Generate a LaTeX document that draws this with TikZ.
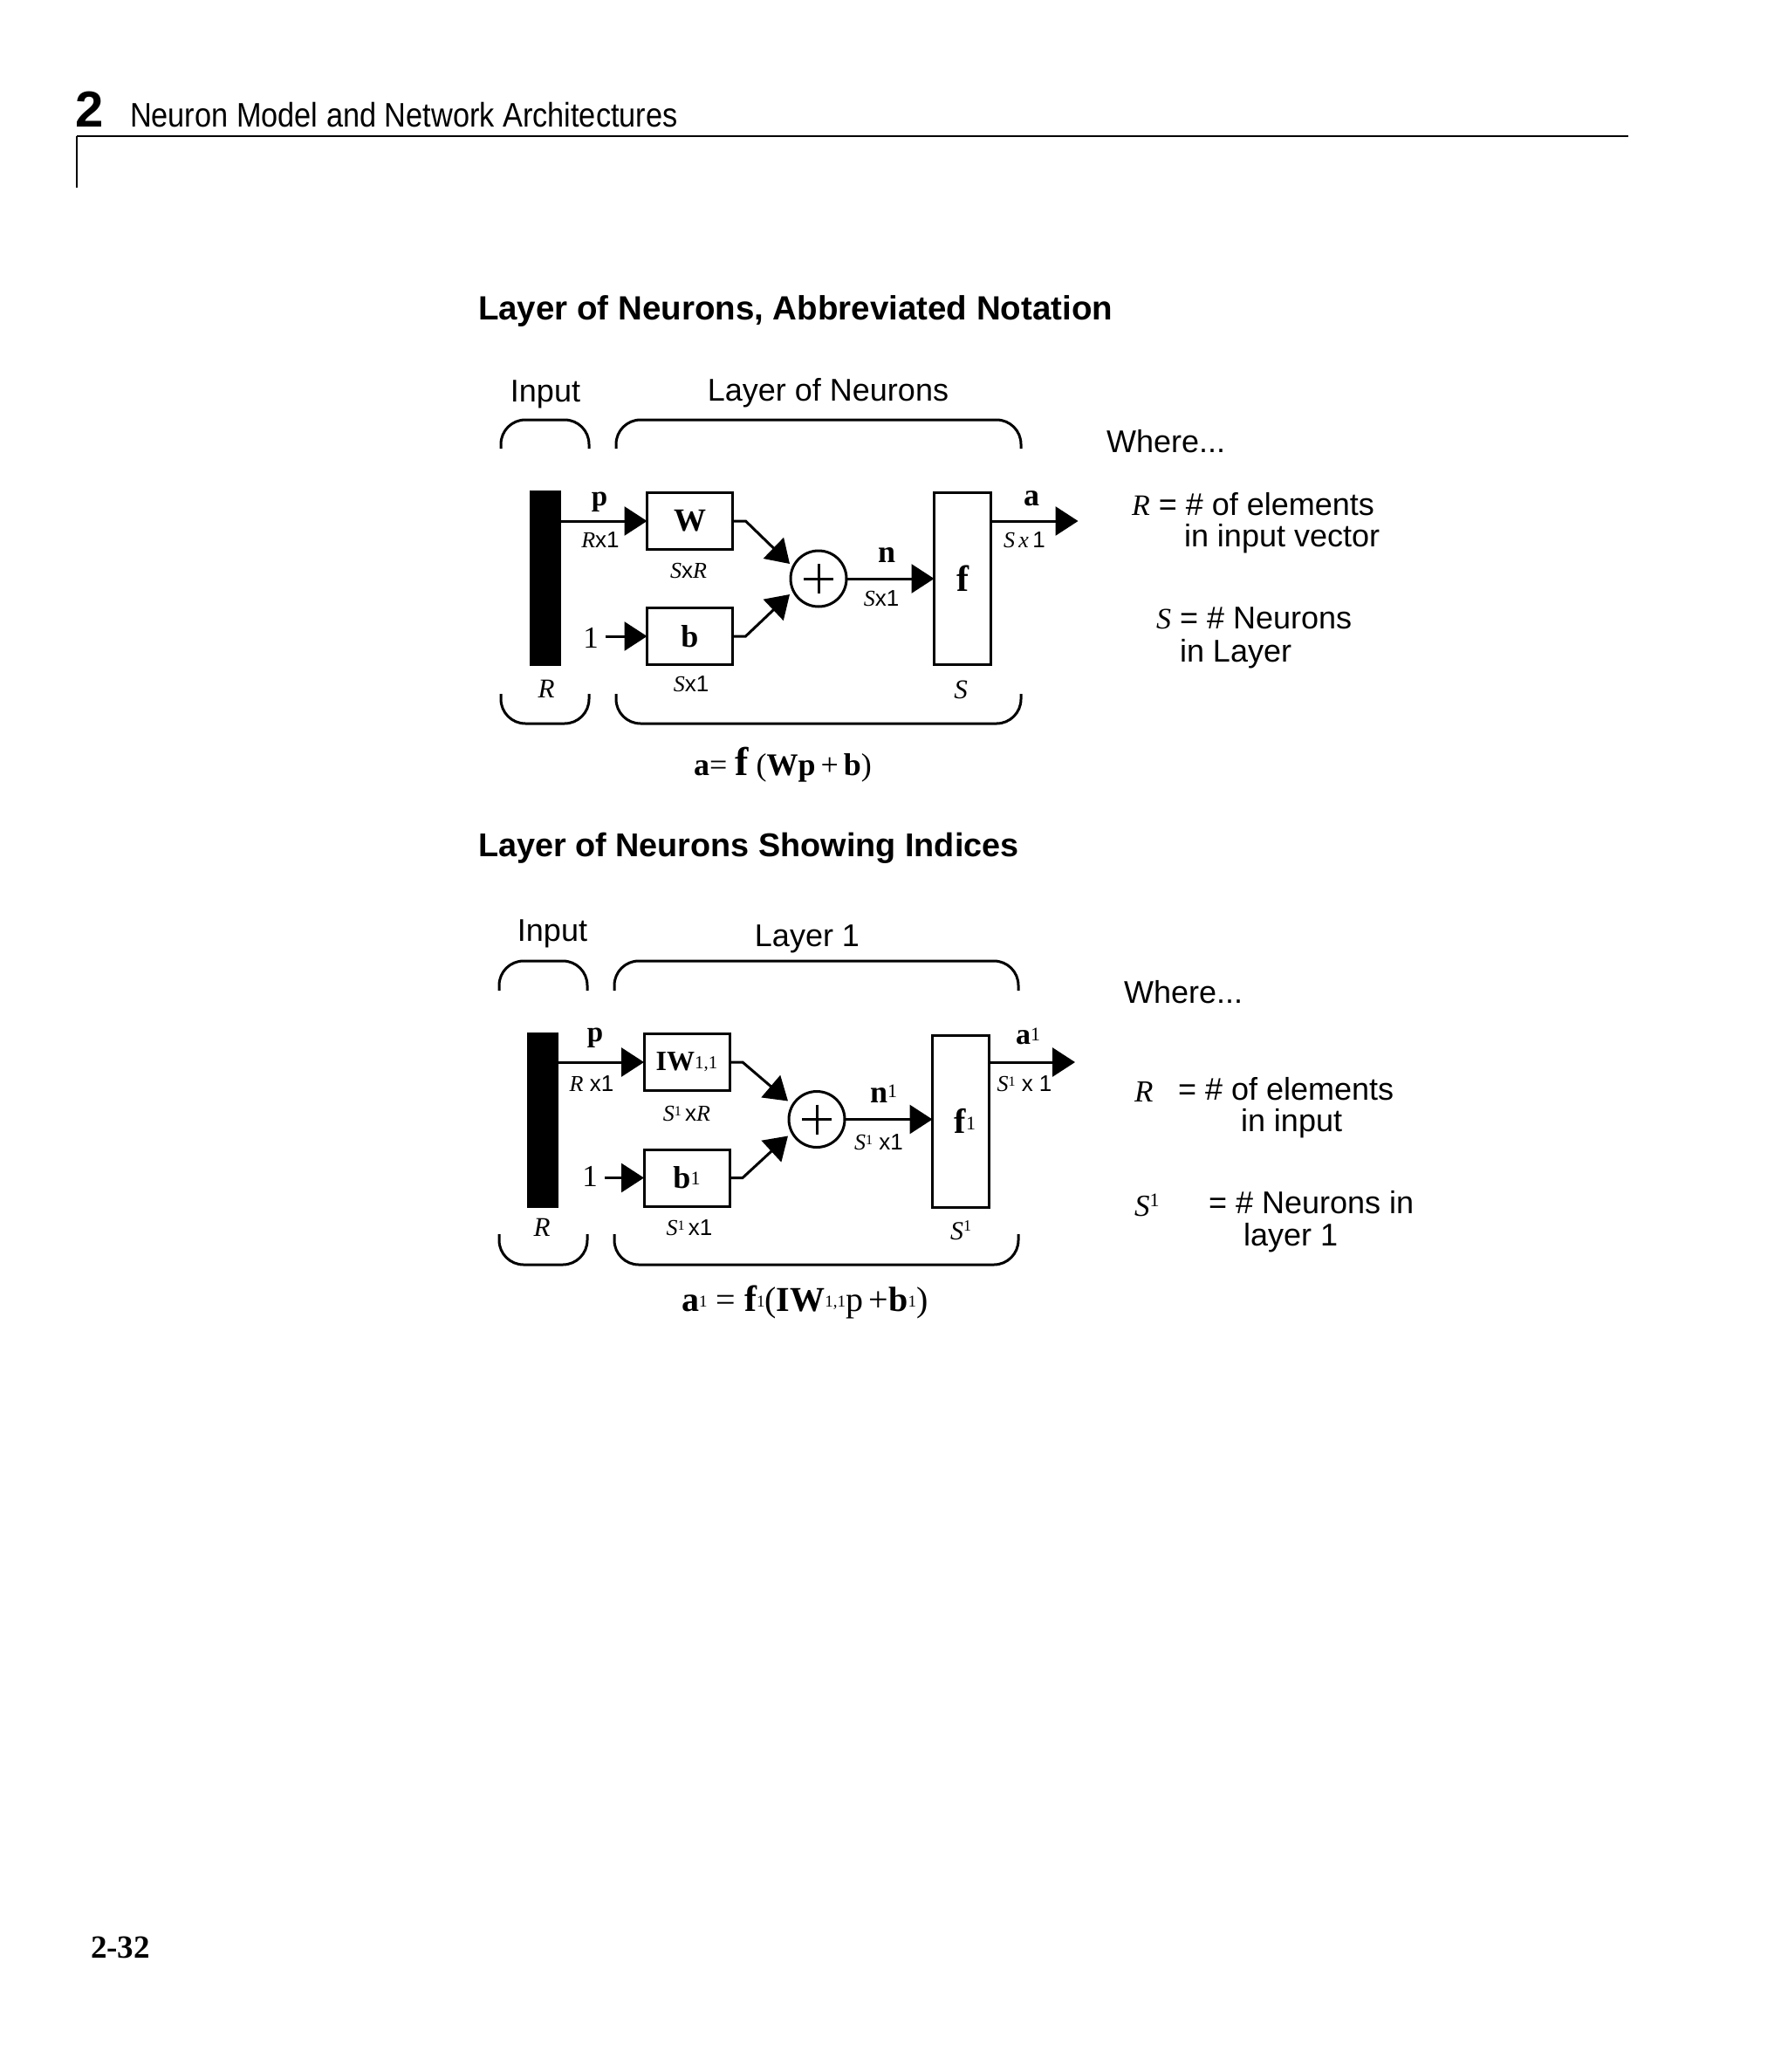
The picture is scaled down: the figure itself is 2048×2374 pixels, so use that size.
\documentclass[tikz,border=0pt]{standalone}
\usepackage{fontspec}
\setmainfont{Liberation Serif}
\setsansfont{Liberation Sans}
\usetikzlibrary{arrows.meta,calc}
\newcommand{\fsz}[1]{\fontsize{#1}{#1}\selectfont}
\newcommand{\iv}[1]{{\rmfamily\itshape\mdseries #1}}
\newcommand{\sx}[1]{{\sffamily\upshape\mdseries #1}}
\newcommand{\bs}[1]{{\rmfamily\bfseries\upshape #1}}
\newcommand{\rup}[3]{\raisebox{#1pt}{\fsz{#2}\rmfamily\mdseries\upshape #3}}
\begin{document}
\begin{tikzpicture}[x=1pt,y=-1pt,
  every node/.style={inner sep=0pt, outer sep=0pt},
  boxn/.style={draw, line width=3pt, minimum width=98pt, minimum height=65pt},
  barn/.style={fill=black, minimum width=36pt, minimum height=201pt},
  fboxn/.style={draw, line width=3pt, minimum width=65pt, minimum height=197pt},
  sumn/.style={draw, circle, line width=3pt, minimum size=64pt},
  conn/.style={line width=3pt},
  arr/.style={conn, -{Triangle[length=26pt,width=33pt]}},
  brk/.style={line width=3pt, rounded corners=28pt},
  lbl/.style={font=\sffamily\fsz{26}},
  sanst/.style={font=\sffamily\fsz{36}},
  titlet/.style={font=\sffamily\bfseries\fsz{38.5}},
  boldl/.style={font=\rmfamily\bfseries\fsz{36}}
]
\fill[white] (0,0) rectangle (2048,2374);
\useasboundingbox (0,0) rectangle (2048,2374);

% ---------- header ----------
\node[anchor=base west, font=\sffamily\bfseries\fsz{58}] (chap) at (86,145) {2};
\node[anchor=base west, font=\sffamily\fsz{39}] (hdr) at (149,145) {\scalebox{0.88}[1]{Neuron Model and Network Architectures}};
\draw[line width=2pt] (88,156) -- (1866,156);
\draw[line width=2pt] (88,156) -- (88,215);

% ---------- diagram 1 ----------
\node[anchor=base west, titlet] (t1) at (548,366) {Layer of Neurons, Abbreviated Notation};
\node[anchor=base, sanst] (inp1) at (625,460) {Input};
\node[anchor=base, sanst] (lay1) at (949,459) {Layer of Neurons};

\draw[brk] (574,514) -- (574,481) -- (675,481) -- (675,514);
\draw[brk] (706,514) -- (706,481) -- (1170,481) -- (1170,514);
\draw[brk] (574,795) -- (574,829) -- (675,829) -- (675,795);
\draw[brk] (706,795) -- (706,829) -- (1170,829) -- (1170,795);

\node[barn] (bar1) at (625,662.5) {};
\node[boxn, font=\rmfamily\bfseries\fsz{37}] (W1) at (790.5,597) {W};
\node[boxn, font=\rmfamily\bfseries\fsz{36}] (B1) at (790.5,729) {b};
\node[sumn] (S1) at (938,663) {};
\node[fboxn, font=\rmfamily\bfseries\fsz{42}] (F1) at (1103,663) {f};
\node[anchor=base, font=\rmfamily\fsz{35}] (one1) at (677,742) {1};
\coordinate (out1) at (1235.5,597);

\draw[conn] ($(S1)+(-17,0)$) -- ($(S1)+(17,0)$);
\draw[conn] ($(S1)+(0,-17)$) -- ($(S1)+(0,17)$);

\draw[arr] (bar1.east |- W1) -- (W1.west);
\draw[arr] ([xshift=8pt]one1.east |- B1) -- (B1.west);
\draw[arr] (W1.east) -- ++(15,0) -- ($(S1)+(-33,-17)$);
\draw[arr] (B1.east) -- ++(15,0) -- ($(S1)+(-33,18)$);
\draw[arr] (S1.east) -- (F1.west |- S1);
\draw[arr] (F1.east |- W1) -- (out1);

\node[anchor=base, font=\rmfamily\bfseries\fsz{33}] (p1) at (687,579) {p};
\node[anchor=base, lbl] (rx1) at (688,627) {\iv{R}x1};
\node[anchor=base, lbl] (sxr1) at (789,662) {\iv{S}x\iv{R}};
\node[anchor=base, lbl] (sx1b) at (792,792) {\iv{S}x1};
\node[anchor=base, boldl] (n1) at (1016,644) {n};
\node[anchor=base, lbl] (sx1n) at (1010,694) {\iv{S}x1};
\node[anchor=base, boldl] (a1) at (1182,579) {a};
\node[anchor=base, lbl] (sx1a) at (1174,627) {\iv{S\,x}\,1};
\node[anchor=base, font=\rmfamily\itshape\fsz{31}] (Rb1) at (626,799) {R};
\node[anchor=base, font=\rmfamily\itshape\fsz{31}] (Sb1) at (1101,800) {S};
\node[anchor=base west, font=\rmfamily\fsz{36}] (eq1) at (795,888) {\bs{a}= \bs{\fsz{46}f} (\bs{Wp}\,+\,\bs{b})};

\node[anchor=base west, sanst] (wh1) at (1268,518) {Where...};
\node[anchor=base west, sanst] (wr1) at (1297,590) {\iv{\fsz{34}R} = \# of elements};
\node[anchor=base west, sanst] (wr1b) at (1357,626) {in input vector};
\node[anchor=base west, sanst] (ws1) at (1325,720) {\iv{\fsz{34}S} = \# Neurons};
\node[anchor=base west, sanst] (ws1b) at (1352,758) {in Layer};

% ---------- diagram 2 ----------
\node[anchor=base west, titlet, font=\sffamily\bfseries\fsz{37.8}] (t2) at (548,981) {Layer of Neurons Showing Indices};
\node[anchor=base, sanst] (inp2) at (633,1078) {Input};
\node[anchor=base, sanst] (lay2) at (925,1084) {Layer 1};

\draw[brk] (572,1135) -- (572,1101) -- (673,1101) -- (673,1135);
\draw[brk] (704,1135) -- (704,1101) -- (1167,1101) -- (1167,1135);
\draw[brk] (572,1414) -- (572,1449) -- (673,1449) -- (673,1414);
\draw[brk] (704,1414) -- (704,1449) -- (1167,1449) -- (1167,1414);

\node[barn] (bar2) at (622,1283.5) {};
\node[boxn] (W2) at (787,1217) {\bs{\fsz{32}IW}\rup{2}{21}{1,1}};
\node[boxn] (B2) at (787,1349.5) {\bs{\fsz{36}b}\rup{4}{22}{1}};
\node[sumn] (S2) at (936,1282.5) {};
\node[fboxn] (F2) at (1101,1284.5) {\hspace*{10pt}\bs{\fsz{40}f}\rup{4}{22}{1}};
\node[anchor=base, font=\rmfamily\fsz{35}] (one2) at (676,1359) {1};
\coordinate (out2) at (1232,1217);

\draw[conn] ($(S2)+(-17,0)$) -- ($(S2)+(17,0)$);
\draw[conn] ($(S2)+(0,-17)$) -- ($(S2)+(0,17)$);

\draw[arr] (bar2.east |- W2) -- (W2.west);
\draw[arr] ([xshift=8pt]one2.east |- B2) -- (B2.west);
\draw[arr] (W2.east) -- ++(15,0) -- ($(S2)+(-33,-21)$);
\draw[arr] (B2.east) -- ++(15,0) -- ($(S2)+(-33,19)$);
\draw[arr] (S2.east) -- (F2.west |- S2);
\draw[arr] (F2.east |- W2) -- (out2);

\node[anchor=base, font=\rmfamily\bfseries\fsz{33}] (p2) at (682,1193) {p};
\node[anchor=base, lbl] (rx2) at (678,1250) {\iv{R} x1};
\node[anchor=base, lbl] (sxr2) at (787,1284) {\iv{S}\rup{6}{16}{1}\,x\iv{R}};
\node[anchor=base, lbl] (sx1b2) at (790,1415) {\iv{S}\rup{6}{16}{1}\,x1};
\node[anchor=base west] (n2) at (997,1263) {\bs{\fsz{36}n}\rup{6}{22}{1}};
\node[anchor=base, lbl] (sx1n2) at (1007,1317) {\iv{S}\rup{6}{16}{1} x1};
\node[anchor=base west] (a2) at (1164,1196) {\bs{\fsz{34}a}\rup{4}{22}{1}};
\node[anchor=base, lbl] (sx1a2) at (1174,1250) {\iv{S}\rup{6}{16}{1} x 1};
\node[anchor=base, font=\rmfamily\itshape\fsz{31}] (Rb2) at (621,1416) {R};
\node[anchor=base west] (Sb2) at (1089,1420) {\iv{\fsz{30}S}\rup{10}{18}{1}};
\node[anchor=base west, font=\rmfamily\fsz{40}] (eq2) at (781,1502) {\bs{a}\rup{5}{19}{1} = \bs{\fsz{42}f}\rup{5}{19}{1}(\bs{IW}\rup{5}{19}{1,1}p\,+\bs{b}\rup{5}{19}{1})};

\node[anchor=base west, sanst] (wh2) at (1288,1149) {Where...};
\node[anchor=base west] (wr2) at (1300,1262) {\iv{\fsz{35}R}};
\node[anchor=base west, sanst] (wr2a) at (1350,1260) {= \# of elements};
\node[anchor=base west, sanst] (wr2b) at (1422,1296) {in input};
\node[anchor=base west] (ws2) at (1300,1393) {\iv{\fsz{35}S}\rup{11}{22}{1}};
\node[anchor=base west, sanst] (ws2a) at (1385,1390) {= \# Neurons in};
\node[anchor=base west, sanst] (ws2b) at (1425,1427) {layer 1};

% ---------- page number ----------
\node[anchor=base west, font=\rmfamily\bfseries\fsz{37}] (pg) at (104,2243) {2-32};
\end{tikzpicture}
\end{document}
